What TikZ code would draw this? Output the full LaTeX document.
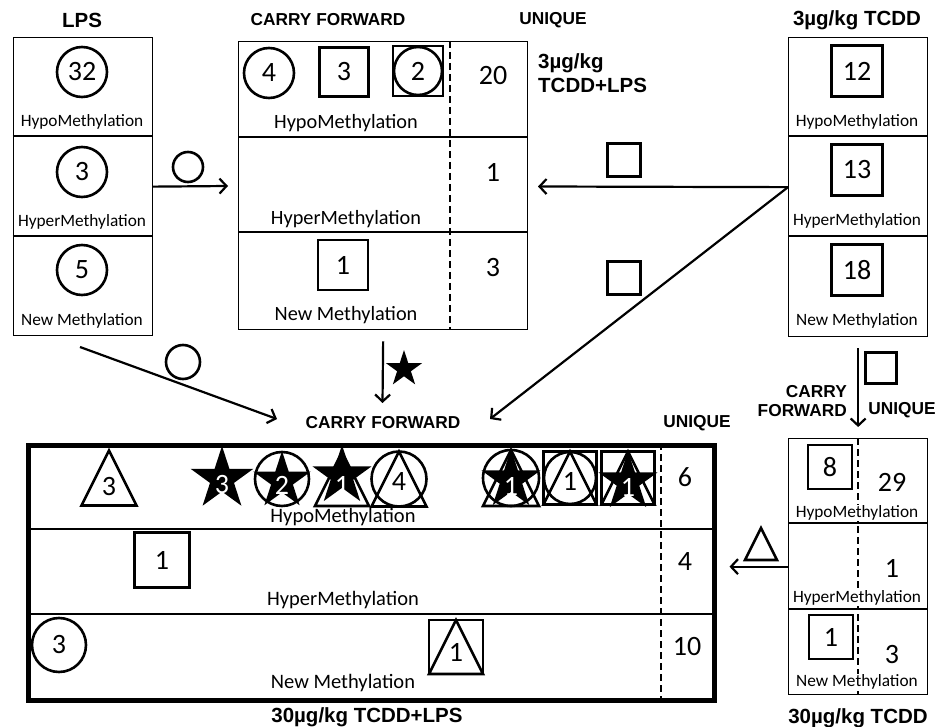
\documentclass[tikz,border=0pt]{standalone}
\usepackage{fontspec}
\setmainfont{Carlito}
\newfontfamily\hdfont{Liberation Sans}
\usetikzlibrary{arrows.meta,calc}
\newcommand\TriAt[3]{\draw[sym, line join=miter] (#1,#2) ++(0,-#3/2) -- ++(#3/2,#3) -- ++(-#3,0) -- cycle;}
\newcommand\StarAt[3]{\fill[shift={(#1,#2)}] (270:#3) -- (306:0.382*#3) -- (342:#3) -- (18:0.382*#3) -- (54:#3) -- (90:0.382*#3) -- (126:#3) -- (162:0.382*#3) -- (198:#3) -- (234:0.382*#3) -- cycle;}
\begin{document}
\begin{tikzpicture}[x=1pt,y=-1pt,
 box/.style={draw, line width=1.3pt, inner sep=0pt},
 sym/.style={line width=2.6pt},
 shp/.style={draw, line width=2.6pt, inner sep=0pt},
 num/.style={font=\fontsize{28}{30}\selectfont, inner sep=0pt},
 lbls/.style={font=\fontsize{17.3}{20}\selectfont, inner sep=1pt},
 lblm/.style={font=\fontsize{20.3}{24}\selectfont, inner sep=1pt},
 hd/.style={font=\hdfont\bfseries\fontsize{17.3}{18.5}\selectfont, inner sep=0pt},
 ttl/.style={font=\hdfont\bfseries\fontsize{20.5}{24}\selectfont, inner sep=0pt},
 arr/.style={line width=2.2pt, -{Straight Barb[length=7pt,width=15pt]}},
 dsh/.style={line width=2pt, dash pattern=on 7pt off 4pt},
 div/.style={line width=1.3pt}]
\useasboundingbox (0,0) rectangle (937,727);

% ---------- titles ----------
\node[ttl] (tLPS) at (82,20) {LPS};
\node[hd] (tcf1) at (328,20) {CARRY FORWARD};
\node[hd] (tun1) at (553,20) {UNIQUE};
\node[ttl] (tT3) at (857,20) {3µg/kg TCDD};
\node[ttl, align=left, anchor=west] (tT3L) at (538,73) {3µg/kg\\TCDD+LPS};
\node[hd] (tcf2) at (383,423) {CARRY FORWARD};
\node[hd] (tun2) at (697,423) {UNIQUE};
\node[ttl] (tT30L) at (367,717) {30µg/kg TCDD+LPS};
\node[ttl] (tT30) at (858,718) {30µg/kg TCDD};
\node[hd, align=right, anchor=east] (tcf3) at (847,401) {CARRY\\FORWARD};
\node[hd] (tun3) at (902,410) {UNIQUE};

% ---------- LPS box ----------
\node[box, minimum width=139pt, minimum height=298pt, anchor=north west] (lps) at (12.5,37) {};
\draw[div] (12.5,136) -- (151.5,136);
\draw[div] (12.5,236) -- (151.5,236);
\node[shp, circle, minimum size=50pt, num] (l1) at (82,72) {32};
\node[shp, circle, minimum size=50pt, num] (l2) at (82,172) {3};
\node[shp, circle, minimum size=50pt, num] (l3) at (82,270) {5};
\node[lbls] (ll1) at (82,122) {HypoMethylation};
\node[lbls] (ll2) at (82,222) {HyperMethylation};
\node[lbls] (ll3) at (82,321) {New Methylation};

% ---------- 3ug TCDD box ----------
\node[box, minimum width=139pt, minimum height=299pt, anchor=north west] (tcdd) at (788,37) {};
\draw[div] (788,136) -- (927,136);
\draw[div] (788,236) -- (927,236);
\node[shp, minimum size=51pt, num] (t1) at (857,71) {12};
\node[shp, minimum size=51pt, num] (t2) at (857,170) {13};
\node[shp, minimum size=51pt, num] (t3) at (857,270) {18};
\node[lbls] (tl1) at (857,122) {HypoMethylation};
\node[lbls] (tl2) at (857,221) {HyperMethylation};
\node[lbls] (tl3) at (857,321) {New Methylation};

% ---------- 3ug TCDD+LPS box ----------
\node[box, minimum width=289pt, minimum height=288pt, anchor=north west] (cbox) at (238,41) {};
\draw[div] (238,137) -- (527,137);
\draw[div] (238,232) -- (527,232);
\draw[dsh] (450,41) -- (450,329);
\node[shp, circle, minimum size=50pt, num] (c1) at (269,73) {4};
\node[shp, minimum size=49pt, num] (c2) at (344,72) {3};
\node[shp, minimum size=50pt] (c3) at (418,71) {};
\node[shp, circle, minimum size=48pt, num] (c3b) at (418,71) {2};
\node[num] (cu1) at (493,76) {20};
\node[num] (cu2) at (493,172) {1};
\node[num] (cu3) at (493,268) {3};
\node[shp, minimum size=50pt, num] (c4) at (343,265) {1};
\node[lblm] (cl1) at (346,123) {HypoMethylation};
\node[lblm] (cl2) at (346,219) {HyperMethylation};
\node[lblm] (cl3) at (346,315) {New Methylation};

% ---------- 30ug TCDD box ----------
\node[box, minimum width=139pt, minimum height=256pt, anchor=north west] (tcdd30) at (788,438) {};
\draw[div] (788,523) -- (927,523);
\draw[div] (788,609) -- (927,609);
\draw[dsh] (858,438) -- (858,694);
\node[shp, minimum size=44pt, fill=white, num] (s1) at (830,467) {8};
\node[shp, minimum size=44pt, fill=white, num] (s2) at (831,637) {1};
\node[num] (su1) at (892,482) {29};
\node[num] (su2) at (892,568) {1};
\node[num] (su3) at (892,655) {3};
\node[lbls, fill=white] (sl1) at (857,513) {HypoMethylation};
\node[lbls, fill=white] (sl2) at (857,598) {HyperMethylation};
\node[lbls, fill=white] (sl3) at (857,682) {New Methylation};

% ---------- 30ug TCDD+LPS box ----------
\node[draw, line width=4.5pt, inner sep=0pt, minimum width=686pt, minimum height=255pt, anchor=north west] (big) at (26,443) {};
\draw[div] (26,529) -- (712,529);
\draw[div] (26,614) -- (712,614);
\draw[dsh] (661,443) -- (661,698);
\node[num] (bu1) at (685,477) {6};
\node[num] (bu2) at (685,562) {4};
\node[num] (bu3) at (687,647) {10};
% row 1
\TriAt{109}{478}{55}
\node[num] (b1) at (109,487) {3};
\StarAt{222}{479}{33}
\node[num, text=white] (b2) at (222,485) {3};
\node[shp, circle, minimum size=54pt] (b3) at (282,479) {};
\StarAt{282}{481}{30}
\node[num, text=white] (b3n) at (282,485) {2};
\TriAt{342}{479}{54}
\StarAt{342}{476}{31}
\node[num, text=white] (b4) at (342,485) {1};
\node[shp, circle, minimum size=55pt] (b5) at (399,479) {};
\TriAt{399}{479}{55}
\node[num] (b5n) at (399,482) {4};
\node[shp, circle, minimum size=56pt] (b6) at (511,478) {};
\TriAt{511}{478}{56}
\StarAt{511}{480}{31}
\node[num, text=white] (b6n) at (511,486) {1};
\node[shp, minimum size=53pt] (b7) at (570,478) {};
\node[shp, circle, minimum size=52pt] (b7c) at (570,478) {};
\TriAt{570}{478}{53}
\node[num] (b7n) at (570,481) {1};
\node[shp, minimum size=53pt] (b8) at (628,478) {};
\TriAt{628}{478}{53}
\StarAt{628}{482}{31}
\node[num, text=white] (b8n) at (628,487) {1};
\node[lblm, font=\fontsize{20.5}{24}\selectfont] (bl1) at (343,517) {HypoMethylation};
% row 2
\node[shp, minimum size=55pt, num] (b9) at (162,560) {1};
\node[lblm, font=\fontsize{20.5}{24}\selectfont] (bl2) at (343,600) {HyperMethylation};
% row 3
\node[shp, circle, minimum size=54pt, num] (b10) at (59,645) {3};
\node[shp, minimum size=54pt] (b11) at (456,647) {};
\TriAt{456}{647}{54}
\node[num] (b11n) at (456,652) {1};
\node[lblm, font=\fontsize{20.5}{24}\selectfont] (bl3) at (343,683) {New Methylation};

% ---------- connectors ----------
\coordinate (e1) at (228,186);
\coordinate (e2) at (538,186.5);
\coordinate (e3) at (490,419);
\coordinate (s4) at (80,347);
\coordinate (e4) at (277,419);
\coordinate (e5) at (382.5,403);
\draw[arr] (lps.east) -- (e1);
\draw[arr] (tcdd.west) -- (e2);
\draw[arr] (tcdd.west) -- (e3);
\draw[arr] (s4) -- (e4);
\draw[arr] ([yshift=-11pt]cbox.south) -- (e5);
\draw[arr] ([yshift=-11pt]tcdd.south) -- ([yshift=11pt]tcdd30.north);
\draw[arr] (tcdd30.west) -- ([xshift=13pt]big.east |- tcdd30.west);

% ---------- connector marks ----------
\node[shp, circle, minimum size=30pt] (m1) at (188,167) {};
\node[shp, minimum size=33pt] (m2) at (624,160) {};
\node[shp, minimum size=33pt] (m3) at (624,278) {};
\node[shp, circle, minimum size=34pt] (m4) at (183,362) {};
\StarAt{404}{369}{19}
\node[shp, minimum size=31pt] (m6) at (881,368) {};
\TriAt{761}{544}{32}
\end{tikzpicture}
\end{document}
